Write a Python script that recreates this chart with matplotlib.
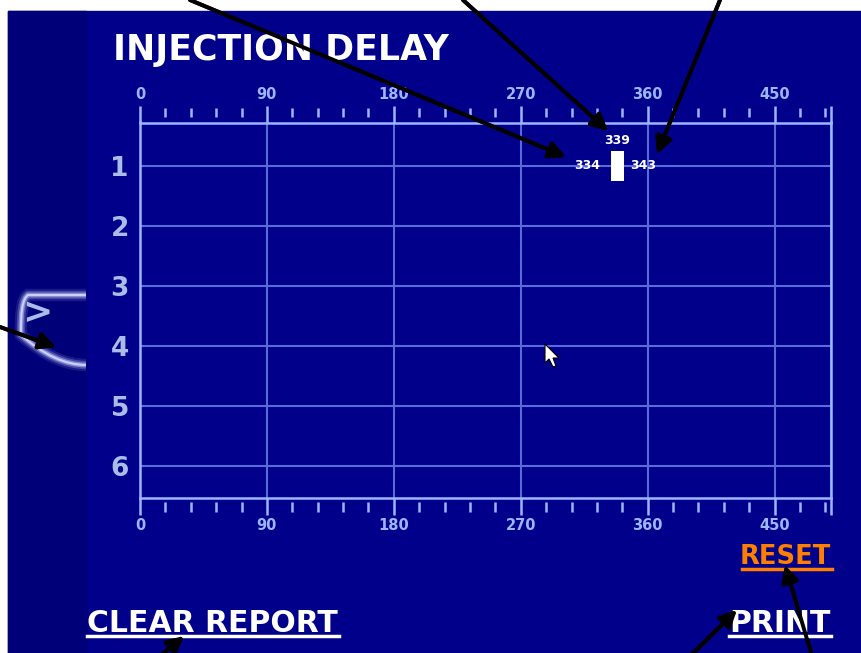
import matplotlib.pyplot as plt
import matplotlib.transforms as mtransforms
from matplotlib.patches import Rectangle, Polygon
from matplotlib.path import Path
from matplotlib.patches import PathPatch

# данные
rows = [1, 2, 3, 4, 5, 6]
x_major = [0, 90, 180, 270, 360, 450]
x_minor = [v for v in range(18, 490, 18) if v % 90 != 0]
delay_row = [1]
delay_start = [334]
delay_end = [343]
delay_mid = [339]

W, H = 861, 653
NAVY = '#00008b'
DARK = '#000078'
LIGHT = '#9bb6ff'
GRID = '#5a6bd8'
FONT = ['DejaVu Sans']

fig = plt.figure(figsize=(W / 100, H / 100), dpi=100)
fig.patch.set_facecolor('white')
# пиксели с началом в левом верхнем углу
px = mtransforms.Affine2D().scale(1 / W, -1 / H).translate(0, 1) + fig.transFigure

# фон панели
fig.patches.append(Rectangle((8, 11), W - 8, H - 11, transform=px, color=NAVY, zorder=-2))
fig.patches.append(Rectangle((8, 11), 78, H - 11, transform=px, color=DARK, zorder=-2))

# вкладка слева
verts = [(86, 295), (28, 295), (20, 300), (21, 335), (55, 365), (86, 365)]
codes = [Path.MOVETO, Path.LINETO, Path.CURVE3, Path.LINETO, Path.CURVE3, Path.LINETO]
tab = Path(verts, codes)
for lw, a in [(9, 0.12), (6, 0.25), (3.5, 0.5), (1.5, 1.0)]:
    fig.patches.append(PathPatch(tab, transform=px, fill=False, lw=lw, ec='#c8d0ff', alpha=a, zorder=-1))
fig.text(37, 313, '>', transform=px, color='#a9bde8', fontsize=26, fontweight='bold',
         ha='center', va='center', family=FONT)

ax = fig.add_axes([140 / W, 1 - 497.5 / H, 691 / W, 375 / H])
ax.set_zorder(2)
ax.set_facecolor('none')
ax.set_xlim(0, 490)
ax.set_ylim(6.52, 0.28)

ax.set_xticks(x_major + [490])
ax.set_xticklabels([str(v) for v in x_major] + [''])
ax.set_yticks(rows)
ax.set_yticklabels([str(r) for r in rows])
ax.tick_params(axis='x', top=True, labeltop=True, length=12, width=1.8, color=LIGHT,
               labelcolor=LIGHT, labelsize=10.5, pad=3)
ax.tick_params(axis='y', length=0, labelcolor='#a9bde8', labelsize=19, pad=8)
for lab in ax.get_xticklabels() + ax.get_yticklabels():
    lab.set_fontweight('bold')
    lab.set_family(FONT)

for s in ax.spines.values():
    s.set_color(LIGHT)
    s.set_linewidth(1.8)

ax.grid(True, color=GRID, lw=1.5)
ax.set_axisbelow(True)

# мелкие штрихи с зазором от оси
ax.vlines(x_minor, 1 + 5 / 375, 1 + 15 / 375, transform=ax.get_xaxis_transform(),
          colors=LIGHT, lw=1.8, clip_on=False)
ax.vlines(x_minor, -14 / 375, -4 / 375, transform=ax.get_xaxis_transform(),
          colors=LIGHT, lw=1.8, clip_on=False)

# задержка впрыска
ax.barh(delay_row, [e - s for s, e in zip(delay_start, delay_end)], left=delay_start,
        height=0.5, color='white', zorder=3)
for r, s, e, m in zip(delay_row, delay_start, delay_end, delay_mid):
    kw = dict(color='white', fontsize=9, fontweight='bold', family=FONT)
    ax.annotate(str(s), (s, r), xytext=(-8, 0), textcoords='offset points', ha='right', va='center', **kw)
    ax.annotate(str(e), (e, r), xytext=(5, 0), textcoords='offset points', ha='left', va='center', **kw)
    ax.annotate(str(m), ((s + e) / 2, r - 0.25), xytext=(0, 3), textcoords='offset points',
                ha='center', va='bottom', **kw)

# заголовок и кнопки
fig.text(113, 60, 'INJECTION DELAY', transform=px, color='white', fontsize=25,
         fontweight='bold', family=FONT, va='baseline')
fig.text(87, 632, 'CLEAR REPORT', transform=px, color='white', fontsize=21.5,
         fontweight='bold', family=FONT, va='baseline')
fig.text(831, 632, 'PRINT', transform=px, color='white', fontsize=21.5,
         fontweight='bold', family=FONT, va='baseline', ha='right')
fig.text(831, 564, 'RESET', transform=px, color='#ff7f00', fontsize=18.5,
         fontweight='bold', family=FONT, va='baseline', ha='right')
fig.lines.append(plt.Line2D([87, 339], [636, 636], transform=px, color='white', lw=2.5))
fig.lines.append(plt.Line2D([729, 831], [636, 636], transform=px, color='white', lw=2.5))
fig.lines.append(plt.Line2D([742, 832], [569, 569], transform=px, color='#ff7f00', lw=2.5))

# курсор
fig.patches.append(Polygon([(545, 344), (545, 363), (549, 359), (553, 367), (556, 366),
                            (553, 358), (559, 358)], closed=True, transform=px,
                           fc='white', ec='black', lw=0.8, zorder=5))

# стрелки-пометки
arrows = [((190, 0), (566, 157)), ((463, 0), (608, 131)), ((720, 0), (657, 154)),
          ((0, 327), (56, 347)), ((160, 656), (184, 636)), ((690, 656), (737, 610)),
          ((812, 656), (785, 565))]
for tail, tip in arrows:
    a = fig.add_artist(plt.annotate('', xy=tip, xycoords=px, xytext=tail, textcoords=px,
                                    arrowprops=dict(arrowstyle='-|>', color='black', lw=2.8,
                                                    mutation_scale=25, shrinkA=0, shrinkB=0)))
    a.set_zorder(6)

fig.savefig('out.png', dpi=100, facecolor=fig.get_facecolor())
